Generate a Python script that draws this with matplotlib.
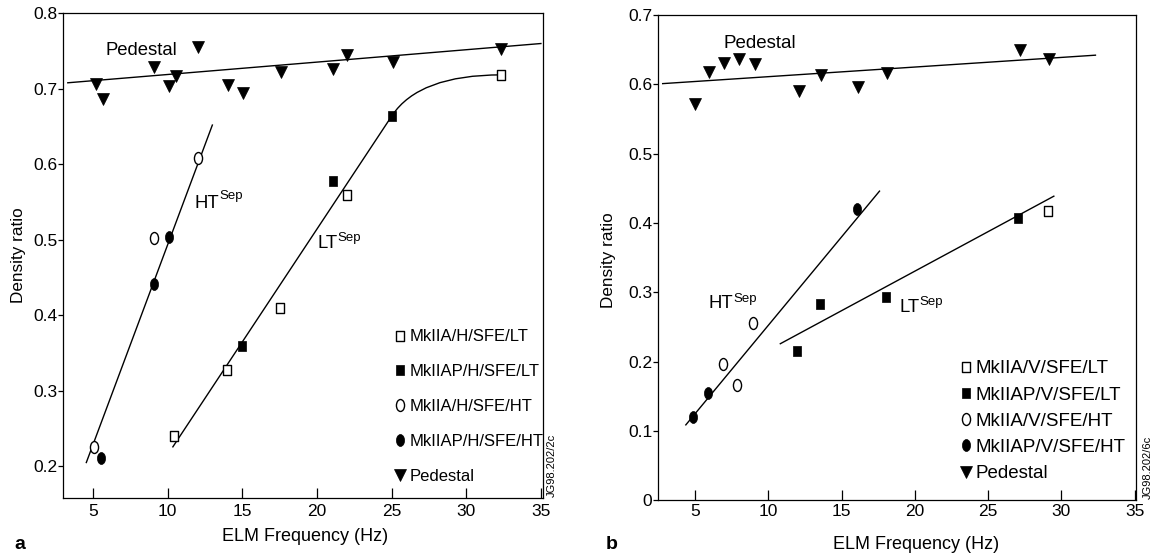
import matplotlib
matplotlib.use('Agg')
import matplotlib.pyplot as plt
from matplotlib.path import Path
from matplotlib.patches import PathPatch
from matplotlib.markers import MarkerStyle
from matplotlib.transforms import Affine2D

plt.rcParams['font.family'] = ['Liberation Sans', 'DejaVu Sans']

# ---------------- panel a (horizontal target) ----------------
ped_a_x = [5.19, 5.66, 9.11, 10.11, 10.59, 12.07, 14.08, 15.03, 17.57, 21.06, 22.04, 25.07, 32.36]
ped_a_y = [0.707, 0.687, 0.729, 0.704, 0.717, 0.755, 0.705, 0.695, 0.722, 0.726, 0.745, 0.736, 0.753]
lt_open_a_x = [10.45, 13.96, 17.5, 22.01, 32.36]
lt_open_a_y = [0.240, 0.328, 0.410, 0.559, 0.7185]
lt_fill_a_x = [14.97, 21.06, 25.03]
lt_fill_a_y = [0.360, 0.578, 0.6645]
ht_open_a_x = [5.05, 9.06, 12.05]
ht_open_a_y = [0.2256, 0.502, 0.609]
ht_fill_a_x = [5.55, 9.06, 10.09]
ht_fill_a_y = [0.2115, 0.441, 0.504]
# fit lines
ped_fit_a_x = [3.32, 35.0]
ped_fit_a_y = [0.708, 0.760]
ht_fit_a_x = [4.56, 13.0]
ht_fit_a_y = [0.205, 0.652]
lt_fit_a_x = [10.33, 25.03, 26.84, 32.36]   # line, then smooth bend (quadratic control point)
lt_fit_a_y = [0.225, 0.6645, 0.7185, 0.7185]
labels_a = ['MkIIA/H/SFE/LT', 'MkIIAP/H/SFE/LT', 'MkIIA/H/SFE/HT', 'MkIIAP/H/SFE/HT', 'Pedestal']

# ---------------- panel b (vertical target) ----------------
ped_b_x = [4.97, 5.98, 7.0, 8.0, 9.06, 12.09, 13.59, 16.1, 18.13, 27.16, 29.16]
ped_b_y = [0.571, 0.618, 0.631, 0.636, 0.629, 0.590, 0.614, 0.596, 0.616, 0.650, 0.636]
lt_open_b_x = [29.07]
lt_open_b_y = [0.417]
lt_fill_b_x = [11.99, 13.52, 18.04, 27.06]
lt_fill_b_y = [0.216, 0.283, 0.294, 0.4075]
ht_open_b_x = [6.88, 7.88, 8.93]
ht_open_b_y = [0.197, 0.167, 0.256]
ht_fill_b_x = [4.88, 5.89, 16.08]
ht_fill_b_y = [0.120, 0.155, 0.420]
ped_fit_b_x = [2.79, 32.33]
ped_fit_b_y = [0.601, 0.642]
ht_fit_b_x = [4.37, 17.59]
ht_fit_b_y = [0.109, 0.446]
lt_fit_b_x = [10.82, 29.49]
lt_fit_b_y = [0.226, 0.4387]
labels_b = ['MkIIA/V/SFE/LT', 'MkIIAP/V/SFE/LT', 'MkIIA/V/SFE/HT', 'MkIIAP/V/SFE/HT', 'Pedestal']

xticks = [5, 10, 15, 20, 25, 30, 35]
yticks_a = [0.2, 0.3, 0.4, 0.5, 0.6, 0.7, 0.8]
yticks_b = [0, 0.1, 0.2, 0.3, 0.4, 0.5, 0.6, 0.7]
ylabels_b = ['0', '0.1', '0.2', '0.3', '0.4', '0.5', '0.6', '0.7']

# marker shapes: slightly tall boxes and ellipses like the printed figure
rect = Path([(-0.4, -0.5), (0.4, -0.5), (0.4, 0.5), (-0.4, 0.5), (-0.4, -0.5)],
            [Path.MOVETO, Path.LINETO, Path.LINETO, Path.LINETO, Path.CLOSEPOLY])
ell = Path.unit_circle().transformed(Affine2D().scale(0.68, 1.0))
m_rect = MarkerStyle(rect)
m_ell = MarkerStyle(ell)

fig = plt.figure(figsize=(11.56, 5.6), dpi=100)
ax_a = fig.add_axes([0.0549, 0.1107, 0.4152, 0.8655])
ax_b = fig.add_axes([0.5692, 0.1063, 0.4139, 0.8670])


def draw_points(ax, lt_o, lt_f, ht_o, ht_f, ped, labels):
    h1, = ax.plot(*lt_o, ls='none', marker=m_rect, ms=7.3, mfc='white', mec='black', mew=1.0, label=labels[0], zorder=3)
    h2, = ax.plot(*lt_f, ls='none', marker=m_rect, ms=7.3, mfc='black', mec='black', mew=0.5, label=labels[1], zorder=3)
    h3, = ax.plot(*ht_o, ls='none', marker=m_ell, ms=8.6, mfc='white', mec='black', mew=1.0, label=labels[2], zorder=3)
    h4, = ax.plot(*ht_f, ls='none', marker=m_ell, ms=8.6, mfc='black', mec='black', mew=0.5, label=labels[3], zorder=3)
    h5, = ax.plot(*ped, ls='none', marker='v', ms=8, mfc='black', mec='black', mew=0.5, label=labels[4], zorder=3)
    return [h1, h2, h3, h4, h5]


def style_axes(ax, xlim, ylim, yticks, ylabels, xpad, ypad):
    ax.set_xlim(*xlim)
    ax.set_ylim(*ylim)
    ax.set_xticks(xticks)
    ax.set_xticklabels([str(t) for t in xticks])
    ax.set_yticks(yticks)
    ax.set_yticklabels(ylabels)
    ax.tick_params(axis='x', direction='in', length=7, width=0.9, pad=xpad, labelsize=12.5)
    ax.tick_params(axis='y', direction='out', length=3.5, width=0.9, pad=ypad, labelsize=12.5)
    for s in ax.spines.values():
        s.set_linewidth(0.9)


def sep_label(ax, x, y, name, y_sup):
    # big label with a small "Sep" superscript glued to its right edge
    t = ax.text(x, y, name, fontsize=13.3, va='baseline')
    ax.annotate('Sep', xy=(1.0, y_sup), xycoords=(t, 'data'), fontsize=9.5, va='baseline', ha='left')


# ---- panel a
ax = ax_a
ax.plot(ped_fit_a_x, ped_fit_a_y, color='black', lw=1.0)
ax.plot(ht_fit_a_x, ht_fit_a_y, color='black', lw=1.0)
verts = list(zip(lt_fit_a_x, lt_fit_a_y))
ax.add_patch(PathPatch(Path(verts, [Path.MOVETO, Path.LINETO, Path.CURVE3, Path.CURVE3]),
                       facecolor='none', edgecolor='black', lw=1.0))
handles = draw_points(ax, (lt_open_a_x, lt_open_a_y), (lt_fill_a_x, lt_fill_a_y),
                      (ht_open_a_x, ht_open_a_y), (ht_fill_a_x, ht_fill_a_y),
                      (ped_a_x, ped_a_y), labels_a)
style_axes(ax, (3.03, 35.17), (0.158, 0.8), yticks_a, [f'{t:.1f}' for t in yticks_a], 4, 0.5)
ax.text(5.83, 0.745, 'Pedestal', fontsize=13.3, va='baseline')
sep_label(ax, 11.81, 0.5425, 'HT', 0.5535)
sep_label(ax, 20.05, 0.489, 'LT', 0.499)
ax.legend(handles=handles, loc='upper left', bbox_to_anchor=(0.693, 0.348), frameon=False,
          borderpad=0, borderaxespad=0, handlelength=0.5, handletextpad=0.3,
          labelspacing=1.19, prop={'size': 12})
ax.set_xlabel('ELM Frequency (Hz)', fontsize=13, va='center')
ax.xaxis.set_label_coords(0.503, -0.0798)
ax.set_ylabel('Density ratio', fontsize=12.3, va='center')
ax.yaxis.set_label_coords(-0.094, 0.5)

# ---- panel b
ax = ax_b
ax.plot(ped_fit_b_x, ped_fit_b_y, color='black', lw=1.0)
ax.plot(ht_fit_b_x, ht_fit_b_y, color='black', lw=1.0)
ax.plot(lt_fit_b_x, lt_fit_b_y, color='black', lw=1.0)
handles = draw_points(ax, (lt_open_b_x, lt_open_b_y), (lt_fill_b_x, lt_fill_b_y),
                      (ht_open_b_x, ht_open_b_y), (ht_fill_b_x, ht_fill_b_y),
                      (ped_b_x, ped_b_y), labels_b)
style_axes(ax, (2.47, 35.13), (0, 0.7), yticks_b, ylabels_b, 2.5, 0.5)
ax.text(6.92, 0.652, 'Pedestal', fontsize=13.5, va='baseline')
sep_label(ax, 5.93, 0.277, 'HT', 0.286)
sep_label(ax, 18.95, 0.2713, 'LT', 0.282)
ax.legend(handles=handles, loc='upper left', bbox_to_anchor=(0.633, 0.289), frameon=False,
          borderpad=0, borderaxespad=0, handlelength=0.5, handletextpad=0.29,
          labelspacing=0.485, prop={'size': 13.5})
ax.set_xlabel('ELM Frequency (Hz)', fontsize=13, va='center')
ax.xaxis.set_label_coords(0.539, -0.0917)
ax.set_ylabel('Density ratio', fontsize=12.3, va='center')
ax.yaxis.set_label_coords(-0.104, 0.495)

# panel letters and drawing codes
fig.text(0.0124, 0.027, 'a', fontsize=14, fontweight='bold', va='center')
fig.text(0.524, 0.027, 'b', fontsize=14, fontweight='bold', va='center')
fig.text(0.4773, 0.1696, 'JG98.202/2c', fontsize=8, rotation=90, ha='center', va='center')
fig.text(0.9926, 0.166, 'JG98.202/6c', fontsize=8, rotation=90, ha='center', va='center')

fig.savefig('out.png', dpi=100)
